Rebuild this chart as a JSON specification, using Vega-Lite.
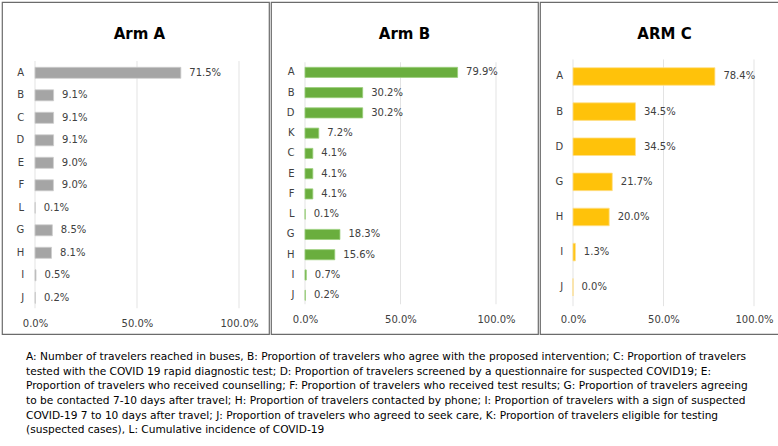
{
  "$schema": "https://vega.github.io/schema/vega-lite/v6.json",
  "background": "white",
  "padding": {"left": 1, "top": 1, "right": 1, "bottom": 0},
  "spacing": 14.7,
  "config": {
    "font": "DejaVu Sans",
    "view": {"stroke": "#6b6b6b", "strokeWidth": 1.2},
    "title": {"font": "DejaVu Sans", "fontSize": 15, "fontWeight": "bold", "color": "#000000", "frame": "group", "anchor": "middle", "baseline": "alphabetic"},
    "axis": {"labelFont": "DejaVu Sans", "labelFontSize": 10, "labelColor": "#404040", "domain": false, "ticks": false, "tickSize": 0, "grid": false, "title": null, "labelPadding": 0}
  },
  "datasets": {
    "armA": [
      {"k": "A", "v": 0.715}, {"k": "B", "v": 0.091}, {"k": "C", "v": 0.091}, {"k": "D", "v": 0.091},
      {"k": "E", "v": 0.090}, {"k": "F", "v": 0.090}, {"k": "L", "v": 0.001}, {"k": "G", "v": 0.085},
      {"k": "H", "v": 0.081}, {"k": "I", "v": 0.005}, {"k": "J", "v": 0.002}
    ],
    "armB": [
      {"k": "A", "v": 0.799}, {"k": "B", "v": 0.302}, {"k": "D", "v": 0.302}, {"k": "K", "v": 0.072},
      {"k": "C", "v": 0.041}, {"k": "E", "v": 0.041}, {"k": "F", "v": 0.041}, {"k": "L", "v": 0.001},
      {"k": "G", "v": 0.183}, {"k": "H", "v": 0.156}, {"k": "I", "v": 0.007}, {"k": "J", "v": 0.002}
    ],
    "armC": [
      {"k": "A", "v": 0.784}, {"k": "B", "v": 0.345}, {"k": "D", "v": 0.345}, {"k": "G", "v": 0.217},
      {"k": "H", "v": 0.200}, {"k": "I", "v": 0.013}, {"k": "J", "v": 0.000}
    ],
    "grid": [{"g": 0}, {"g": 0.5}, {"g": 1}],
    "caption": [
      {"line": 1, "text": "A: Number of travelers reached in buses, B: Proportion of travelers who agree with the proposed intervention; C: Proportion of travelers"},
      {"line": 2, "text": "tested with the COVID 19 rapid diagnostic test; D: Proportion of travelers screened by a questionnaire for suspected COVID19; E:"},
      {"line": 3, "text": "Proportion of travelers who received counselling; F: Proportion of travelers who received test results; G: Proportion of travelers agreeing"},
      {"line": 4, "text": "to be contacted 7-10 days after travel; H: Proportion of travelers contacted by phone; I: Proportion of travelers with a sign of suspected"},
      {"line": 5, "text": "COVID-19 7 to 10 days after travel; J: Proportion of travelers who agreed to seek care, K: Proportion of travelers eligible for testing"},
      {"line": 6, "text": "(suspected cases), L: Cumulative incidence of COVID-19"}
    ]
  },
  "vconcat": [
    {
      "spacing": 0,
      "hconcat": [
        {
          "width": 267,
          "height": 332,
          "title": {"text": "Arm A", "offset": -40, "dx": 4},
          "layer": [
            {
              "data": {"name": "grid"},
              "mark": {"type": "rule", "color": "#e3e3e3", "strokeWidth": 1},
              "encoding": {
                "x": {"field": "g", "type": "quantitative"},
                "y": {"datum": "A", "bandPosition": -0.57},
                "y2": {"datum": "J", "bandPosition": 1.45}
              }
            },
            {
              "data": {"name": "armA"},
              "mark": {"type": "bar", "color": "#a5a5a5", "stroke": "#cdcdcd", "strokeWidth": 0.8},
              "encoding": {
                "y": {"field": "k", "type": "nominal", "sort": null,
                  "scale": {"domain": ["A","B","C","D","E","F","L","G","H","I","J"], "range": [65.3, 301.3], "paddingInner": 0.51, "paddingOuter": 0},
                  "axis": {"orient": "left", "offset": -21.7}},
                "x": {"field": "v", "type": "quantitative",
                  "scale": {"domain": [-0.1618, 1.1471], "nice": false, "zero": false},
                  "axis": {"values": [0, 0.5, 1], "format": ".1%", "labelBaseline": "middle", "labelFlush": false, "offset": -10.5}},
                "x2": {"datum": 0}
              }
            },
            {
              "data": {"name": "armA"},
              "mark": {"type": "text", "align": "left", "baseline": "middle", "dx": 8.5, "fontSize": 10, "color": "#404040"},
              "encoding": {
                "y": {"field": "k", "type": "nominal", "sort": null},
                "x": {"field": "v", "type": "quantitative"},
                "text": {"field": "v", "type": "quantitative", "format": ".1%"}
              }
            }
          ]
        },
        {
          "width": 267,
          "height": 332,
          "title": {"text": "Arm B", "offset": -40, "dx": 0},
          "layer": [
            {
              "data": {"name": "grid"},
              "mark": {"type": "rule", "color": "#e3e3e3", "strokeWidth": 1},
              "encoding": {
                "x": {"field": "g", "type": "quantitative"},
                "y": {"datum": "A", "bandPosition": -0.5},
                "y2": {"datum": "J", "bandPosition": 1.39}
              }
            },
            {
              "data": {"name": "armB"},
              "mark": {"type": "bar", "color": "#6aae3e", "stroke": "#9ccf7c", "strokeWidth": 0.8},
              "encoding": {
                "y": {"field": "k", "type": "nominal", "sort": null,
                  "scale": {"domain": ["A","B","D","K","C","E","F","L","G","H","I","J"], "range": [65.3, 298.3], "paddingInner": 0.5, "paddingOuter": 0},
                  "axis": {"orient": "left", "offset": -23}},
                "x": {"field": "v", "type": "quantitative",
                  "scale": {"domain": [-0.178, 1.2199], "nice": false, "zero": false},
                  "axis": {"values": [0, 0.5, 1], "format": ".1%", "labelBaseline": "middle", "labelFlush": false, "offset": -14.5}},
                "x2": {"datum": 0}
              }
            },
            {
              "data": {"name": "armB"},
              "mark": {"type": "text", "align": "left", "baseline": "middle", "dx": 8.5, "fontSize": 10, "color": "#404040"},
              "encoding": {
                "y": {"field": "k", "type": "nominal", "sort": null},
                "x": {"field": "v", "type": "quantitative"},
                "text": {"field": "v", "type": "quantitative", "format": ".1%"}
              }
            }
          ]
        },
        {
          "width": 241,
          "height": 332,
          "title": {"text": "ARM C", "offset": -40, "dx": 4},
          "layer": [
            {
              "data": {"name": "grid"},
              "mark": {"type": "rule", "color": "#e3e3e3", "strokeWidth": 1},
              "encoding": {
                "x": {"field": "g", "type": "quantitative"},
                "y": {"datum": "A", "bandPosition": -0.47},
                "y2": {"datum": "J", "bandPosition": 1.58}
              }
            },
            {
              "data": {"name": "armC"},
              "mark": {"type": "bar", "color": "#ffc20a", "stroke": "#ffe08a", "strokeWidth": 0.8},
              "encoding": {
                "y": {"field": "k", "type": "nominal", "sort": null,
                  "scale": {"domain": ["A","B","D","G","H","I","J"], "range": [65.7, 294], "paddingInner": 0.5, "paddingOuter": 0},
                  "axis": {"orient": "left", "offset": -22.7}},
                "x": {"field": "v", "type": "quantitative",
                  "scale": {"domain": [-0.1823, 1.1492], "nice": false, "zero": false},
                  "axis": {"values": [0, 0.5, 1], "format": ".1%", "labelBaseline": "middle", "labelFlush": false, "offset": -14.5}},
                "x2": {"datum": 0}
              }
            },
            {
              "data": {"name": "armC"},
              "mark": {"type": "text", "align": "left", "baseline": "middle", "dx": 8.5, "fontSize": 10, "color": "#404040"},
              "encoding": {
                "y": {"field": "k", "type": "nominal", "sort": null},
                "x": {"field": "v", "type": "quantitative"},
                "text": {"field": "v", "type": "quantitative", "format": ".1%"}
              }
            }
          ]
        }
      ]
    },
    {
      "width": 775,
      "height": 88,
      "view": {"stroke": null},
      "data": {"name": "caption"},
      "mark": {"type": "text", "align": "left", "baseline": "middle", "fontSize": 10.6, "color": "#000000"},
      "encoding": {
        "x": {"datum": 3.1, "type": "quantitative", "scale": {"domain": [0, 100]}, "axis": null},
        "y": {"field": "line", "type": "ordinal", "axis": null},
        "text": {"field": "text"}
      }
    }
  ]
}
